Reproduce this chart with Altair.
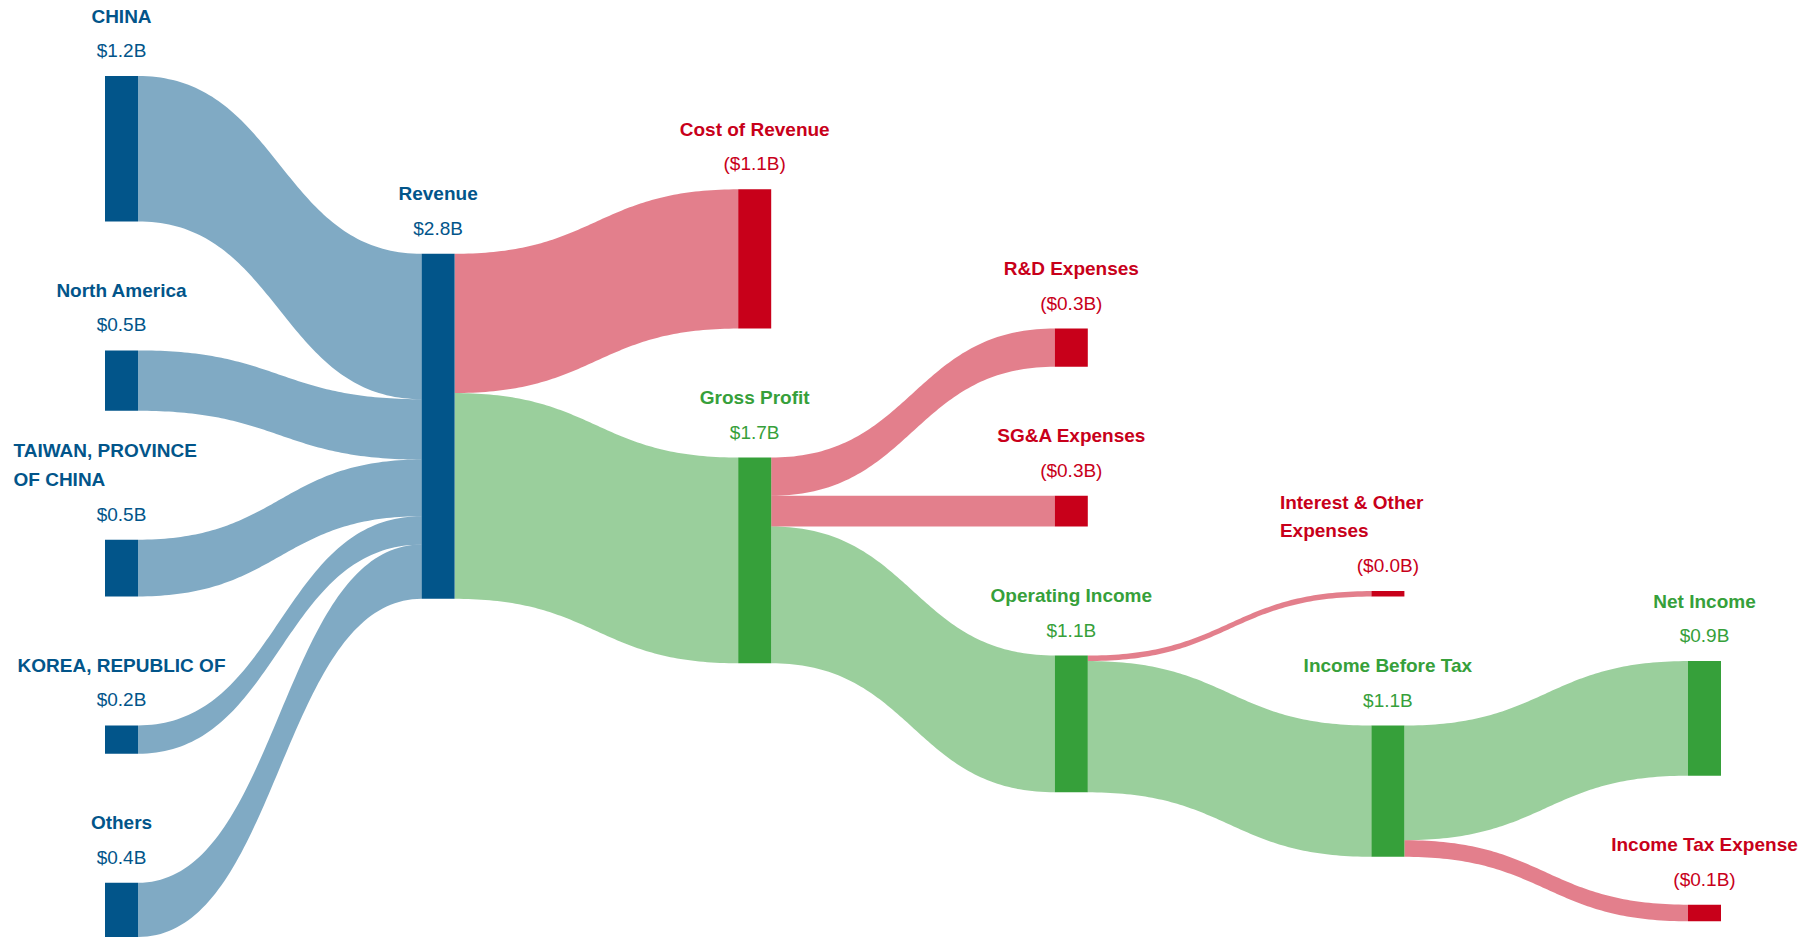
import altair as alt
import numpy as np
import pandas as pd
from decimal import Decimal, ROUND_HALF_UP

# ---------------- data ----------------
node_names = [
    "CHINA", "North America", "TAIWAN, PROVINCE\nOF CHINA", "KOREA, REPUBLIC OF", "Others",
    "Revenue", "Cost of Revenue", "Gross Profit",
    "R&D Expenses", "SG&A Expenses", "Operating Income",
    "Interest & Other\nExpenses", "Income Before Tax",
    "Net Income", "Income Tax Expense",
]
node_columns = [0, 0, 0, 0, 0, 1, 2, 2, 3, 3, 3, 4, 4, 5, 5]
node_kinds = ["segment"] * 6 + ["expense", "profit", "expense", "expense", "profit",
                                "expense", "profit", "profit", "expense"]

link_sources = ["CHINA", "North America", "TAIWAN, PROVINCE\nOF CHINA", "KOREA, REPUBLIC OF", "Others",
                "Revenue", "Revenue", "Gross Profit", "Gross Profit", "Gross Profit",
                "Operating Income", "Operating Income", "Income Before Tax", "Income Before Tax"]
link_targets = ["Revenue", "Revenue", "Revenue", "Revenue", "Revenue",
                "Cost of Revenue", "Gross Profit", "R&D Expenses", "SG&A Expenses", "Operating Income",
                "Interest & Other\nExpenses", "Income Before Tax", "Net Income", "Income Tax Expense"]
link_values = [1.18, 0.49, 0.46, 0.23, 0.44,   # $B
               1.13, 1.67, 0.31, 0.25, 1.11,
               0.045, 1.065, 0.93, 0.135]

kind_colors = {"segment": "#02558A", "profit": "#36A03A", "expense": "#C8001A"}

# ---------------- layout settings ----------------
W, H = 1793, 930          # plot area (px)
PX_PER_B = 123.2          # vertical px per $1B
COL_PX = 316.6            # px between columns
NODE_W = 33 / COL_PX      # node width in column units
GAP = 129 / PX_PER_B      # vertical padding between nodes ($B units)
TOP0 = 68 / PX_PER_B      # room for the labels above the first column
X_MIN = -97 / COL_PX
X_MAX = X_MIN + W / COL_PX
Y_MAX = H / PX_PER_B
FONT = "Liberation Sans"

# ---------------- sankey layout ----------------
n = len(node_names)
idx_of = {name: i for i, name in enumerate(node_names)}
src = [idx_of[s] for s in link_sources]
tgt = [idx_of[t] for t in link_targets]
L = len(link_values)

v_in = [0.0] * n
v_out = [0.0] * n
for s, t, v in zip(src, tgt, link_values):
    v_out[s] += v
    v_in[t] += v
node_val = [max(a, b) for a, b in zip(v_in, v_out)]

out_off = [0.0] * L
in_off = [0.0] * L
for i in range(n):
    acc = 0.0
    for k in sorted([k for k in range(L) if src[k] == i], key=lambda k: tgt[k]):
        out_off[k] = acc
        acc += link_values[k]
    acc = 0.0
    for k in sorted([k for k in range(L) if tgt[k] == i], key=lambda k: src[k]):
        in_off[k] = acc
        acc += link_values[k]

top = [0.0] * n
for c in range(max(node_columns) + 1):
    idx = [i for i in range(n) if node_columns[i] == c]
    packed, p = [], 0.0
    for i in idx:
        packed.append(p)
        p += node_val[i] + GAP
    if c == 0:
        shift = TOP0
    else:
        ideal = []
        for i in idx:
            ks = [k for k in range(L) if tgt[k] == i]
            num = sum(link_values[k] * (top[src[k]] + out_off[k] - in_off[k]) for k in ks)
            ideal.append(num / sum(link_values[k] for k in ks))
        shift = float(np.mean([a - b for a, b in zip(ideal, packed)]))
    for i, pk in zip(idx, packed):
        top[i] = shift + pk

# ---------------- tables ----------------
def fmt(v, kind):
    r = Decimal(str(round(v, 6))).quantize(Decimal("0.1"), rounding=ROUND_HALF_UP)
    s = f"${r}B"
    return f"({s})" if kind == "expense" else s

nodes = pd.DataFrame({
    "name": node_names,
    "nx0": [float(c) for c in node_columns],
    "nx1": [c + NODE_W for c in node_columns],
    "nxc": [c + NODE_W / 2 for c in node_columns],
    "ntop": top,
    "nbottom": [t + v for t, v in zip(top, node_val)],
    "ncolor": [kind_colors[k] for k in node_kinds],
    "value_label": [fmt(v, k) for v, k in zip(node_val, node_kinds)],
    "wrapped": ["\n" in nm for nm in node_names],
})

tt = np.linspace(0, 1, 90)
rows = []
for k in range(L):
    s, t, v = src[k], tgt[k], link_values[k]
    x0 = node_columns[s] + NODE_W
    x1 = node_columns[t]
    ys0 = top[s] + out_off[k]
    ys1 = top[t] + in_off[k]
    xm = (x0 + x1) / 2
    xs_ = x0 * (1 - tt) ** 3 + xm * 3 * tt * (1 - tt) + x1 * tt ** 3
    e = 3 * tt ** 2 - 2 * tt ** 3
    ytop = ys0 + (ys1 - ys0) * e
    for xx, yy in zip(xs_, ytop):
        rows.append({"lid": f"L{k:02d}", "rx": float(xx), "ry0": float(yy), "ry1": float(yy + v),
                     "lcolor": kind_colors[node_kinds[t]]})
ribbons = pd.DataFrame(rows)

# ---------------- chart ----------------
xs = alt.Scale(domain=[X_MIN, X_MAX], nice=False, zero=False)
ys = alt.Scale(domain=[0, Y_MAX], nice=False, zero=False, reverse=True)

ribbon_layer = alt.Chart(ribbons).mark_area(opacity=0.5, orient="vertical").encode(
    x=alt.X("rx:Q", scale=xs, axis=None),
    y=alt.Y("ry0:Q", scale=ys, axis=None, stack=None),
    y2="ry1:Q",
    detail="lid:N",
    color=alt.Color("lcolor:N", scale=None),
)

base = alt.Chart(nodes)
node_layer = base.mark_rect().encode(
    x=alt.X("nx0:Q", scale=xs, axis=None),
    x2="nx1:Q",
    y=alt.Y("ntop:Q", scale=ys, axis=None),
    y2="nbottom:Q",
    color=alt.Color("ncolor:N", scale=None),
)

name_single = base.transform_filter("!datum.wrapped").mark_text(
    font=FONT, fontSize=19, fontWeight="bold", align="center", baseline="alphabetic", dy=-53.5
).encode(
    x=alt.X("nxc:Q", scale=xs, axis=None),
    y=alt.Y("ntop:Q", scale=ys, axis=None),
    text="name:N",
    color=alt.Color("ncolor:N", scale=None),
)

name_wrapped = base.transform_filter("datum.wrapped").mark_text(
    font=FONT, fontSize=19, fontWeight="bold", align="left", baseline="top",
    lineBreak="\n", lineHeight=28.7, dx=-108, dy=-97.5
).encode(
    x=alt.X("nxc:Q", scale=xs, axis=None),
    y=alt.Y("ntop:Q", scale=ys, axis=None),
    text="name:N",
    color=alt.Color("ncolor:N", scale=None),
)

value_text = base.mark_text(
    font=FONT, fontSize=19, align="center", baseline="alphabetic", dy=-19
).encode(
    x=alt.X("nxc:Q", scale=xs, axis=None),
    y=alt.Y("ntop:Q", scale=ys, axis=None),
    text="value_label:N",
    color=alt.Color("ncolor:N", scale=None),
)

chart = alt.layer(ribbon_layer, node_layer, name_single, name_wrapped, value_text).properties(
    width=W, height=H, padding=0, autosize=alt.AutoSizeParams(type="none"),
    background="white",
).configure_view(stroke=None)

chart.save("out.html", embed_options={"renderer": "svg", "actions": False})
